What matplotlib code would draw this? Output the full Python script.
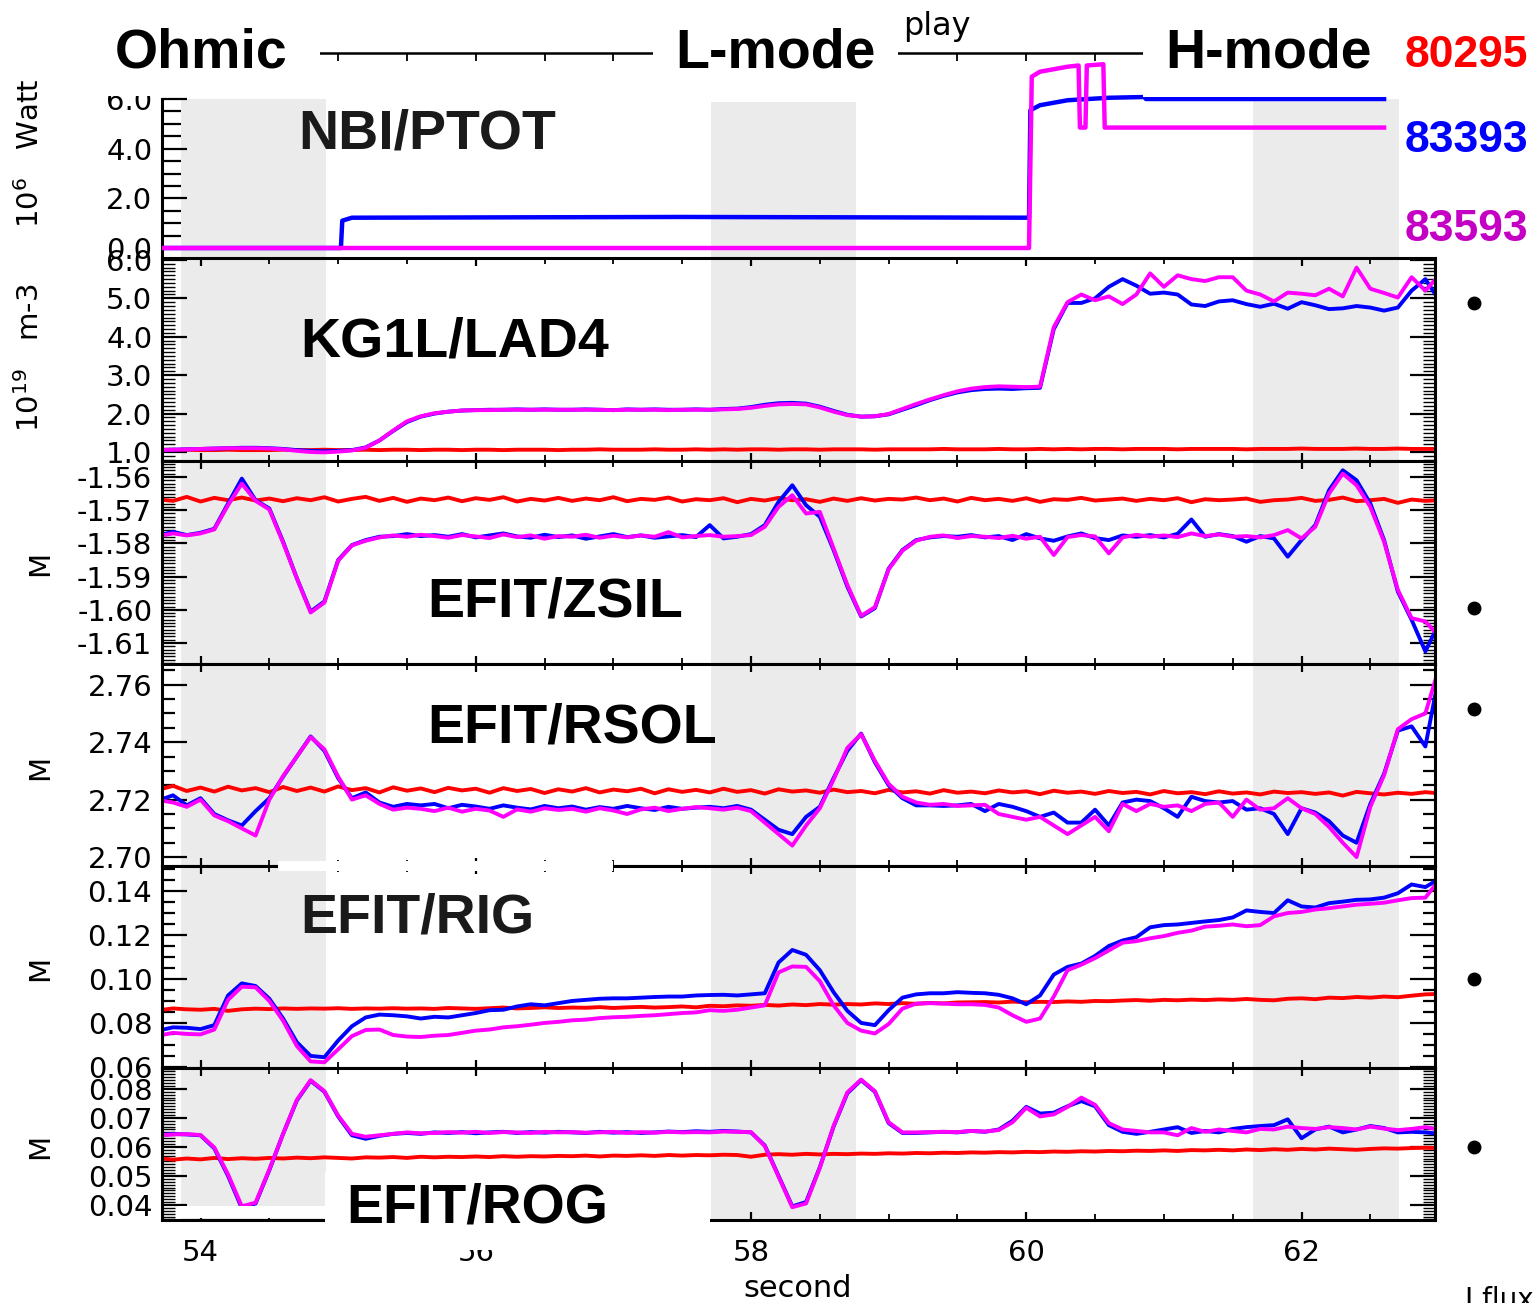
import numpy as np
import matplotlib
matplotlib.use("Agg")
import matplotlib.pyplot as plt
from matplotlib.patches import Rectangle
from matplotlib.ticker import MultipleLocator, FixedLocator, FormatStrFormatter

plt.rcParams['font.family'] = ['DejaVu Sans']

W, H = 1533, 1303
XLIM = (53.72, 62.97)

## shots and colours
shots = ["80295", "83393", "83593"]
line_colors = ["#ff0000", "#0000ff", "#ff00ff"]
label_colors = ["#ff0000", "#0000ff", "#c400c4"]

## grey time windows (s)
shade_windows = [(53.86, 54.91), (57.71, 58.76), (61.65, 62.71)]

## common time base for the EFIT / density traces (s)
t = np.round(np.arange(53.7, 63.05, 0.1), 1)

## NBI/PTOT  (10^6 W), step signals given by break points
nbi_t_83393 = [53.7, 55.02, 55.03, 55.1, 57.5, 60.02, 60.03, 60.1, 60.3, 60.6, 60.86, 60.87, 62.6]
nbi_p_83393 = [0.0, 0.0, 1.10, 1.22, 1.25, 1.22, 5.55, 5.75, 5.95, 6.05, 6.08, 6.0, 6.0]
nbi_t_83593 = [53.7, 60.02, 60.04, 60.1, 60.3, 60.38, 60.39, 60.43, 60.44, 60.56, 60.57, 62.6]
nbi_p_83593 = [0.0, 0.0, 6.9, 7.1, 7.3, 7.35, 4.85, 4.85, 7.35, 7.4, 4.85, 4.85]

## KG1L/LAD4  (10^19 m-3)
ne_80295 = [1.05, 1.05, 1.06, 1.05, 1.05, 1.06, 1.05, 1.05, 1.05, 1.06,
            1.05, 1.05, 1.06, 1.05, 1.05, 1.06, 1.05, 1.06, 1.06, 1.05,
            1.06, 1.06, 1.05, 1.06, 1.06, 1.05, 1.06, 1.06, 1.06, 1.05,
            1.06, 1.06, 1.07, 1.06, 1.06, 1.06, 1.07, 1.06, 1.06, 1.07,
            1.06, 1.07, 1.06, 1.07, 1.07, 1.06, 1.07, 1.07, 1.06, 1.07,
            1.07, 1.07, 1.06, 1.07, 1.07, 1.07, 1.07, 1.08, 1.07, 1.07,
            1.07, 1.08, 1.07, 1.07, 1.08, 1.07, 1.08, 1.07, 1.08, 1.08,
            1.07, 1.08, 1.08, 1.08, 1.07, 1.08, 1.08, 1.08, 1.08, 1.07,
            1.08, 1.08, 1.08, 1.09, 1.08, 1.08, 1.08, 1.09, 1.08, 1.08,
            1.09, 1.08, 1.08, 1.08]
ne_83393 = [1.05, 1.06, 1.07, 1.08, 1.09, 1.10, 1.11, 1.11, 1.10, 1.08,
            1.05, 1.03, 1.02, 1.03, 1.05, 1.12, 1.30, 1.55, 1.78, 1.92,
            2.00, 2.05, 2.08, 2.09, 2.10, 2.10, 2.11, 2.10, 2.11, 2.10,
            2.10, 2.11, 2.10, 2.09, 2.11, 2.10, 2.11, 2.10, 2.10, 2.11,
            2.10, 2.12, 2.13, 2.17, 2.23, 2.27, 2.28, 2.26, 2.18, 2.07,
            1.97, 1.92, 1.93, 1.98, 2.10, 2.22, 2.35, 2.46, 2.55, 2.61,
            2.64, 2.65, 2.64, 2.66, 2.67, 4.20, 4.88, 4.88, 5.00, 5.30,
            5.50, 5.33, 5.12, 5.15, 5.10, 4.84, 4.80, 4.92, 4.95, 4.85,
            4.78, 4.86, 4.73, 4.90, 4.82, 4.72, 4.74, 4.80, 4.76, 4.68,
            4.76, 5.20, 5.50, 4.95]
ne_83593 = [1.05, 1.06, 1.07, 1.08, 1.09, 1.10, 1.10, 1.10, 1.09, 1.07,
            1.03, 1.00, 0.99, 1.01, 1.04, 1.11, 1.30, 1.56, 1.80, 1.93,
            2.01, 2.05, 2.08, 2.09, 2.09, 2.10, 2.10, 2.10, 2.10, 2.10,
            2.10, 2.10, 2.10, 2.09, 2.10, 2.10, 2.10, 2.09, 2.10, 2.10,
            2.10, 2.11, 2.12, 2.15, 2.20, 2.24, 2.25, 2.24, 2.16, 2.05,
            1.96, 1.92, 1.93, 1.99, 2.12, 2.25, 2.37, 2.48, 2.58, 2.65,
            2.69, 2.71, 2.70, 2.69, 2.70, 4.25, 4.90, 5.10, 4.95, 5.05,
            4.85, 5.10, 5.65, 5.30, 5.60, 5.50, 5.45, 5.55, 5.55, 5.20,
            5.10, 4.92, 5.15, 5.12, 5.08, 5.25, 5.05, 5.80, 5.25, 5.14,
            5.02, 5.55, 5.20, 5.60]

## EFIT/ZSIL  (m)
zsil_80295 = [-1.5668, -1.5672, -1.5660, -1.5674, -1.5663, -1.5670, -1.5662, -1.5671, -1.5665, -1.5673,
              -1.5664, -1.5670, -1.5661, -1.5674, -1.5666, -1.5660, -1.5672, -1.5663, -1.5675, -1.5665,
              -1.5670, -1.5662, -1.5673, -1.5664, -1.5669, -1.5661, -1.5674, -1.5666, -1.5671, -1.5663,
              -1.5672, -1.5665, -1.5670, -1.5661, -1.5673, -1.5666, -1.5669, -1.5662, -1.5674, -1.5667,
              -1.5670, -1.5664, -1.5676, -1.5666, -1.5671, -1.5663, -1.5670, -1.5667, -1.5675, -1.5665,
              -1.5672, -1.5664, -1.5671, -1.5666, -1.5668, -1.5662, -1.5670, -1.5665, -1.5674, -1.5663,
              -1.5670, -1.5666, -1.5672, -1.5664, -1.5675, -1.5667, -1.5669, -1.5663, -1.5671, -1.5668,
              -1.5665, -1.5672, -1.5666, -1.5670, -1.5664, -1.5676, -1.5667, -1.5670, -1.5668, -1.5665,
              -1.5675, -1.5670, -1.5668, -1.5663, -1.5672, -1.5669, -1.5662, -1.5673, -1.5670, -1.5666,
              -1.5678, -1.5668, -1.5672, -1.5670]
zsil_83393 = [-1.5776, -1.5765, -1.5775, -1.5768, -1.5756, -1.5680, -1.5605, -1.5670, -1.5695, -1.5795,
              -1.5905, -1.6005, -1.5975, -1.5850, -1.5805, -1.5790, -1.5780, -1.5778, -1.5772, -1.5778,
              -1.5775, -1.5780, -1.5772, -1.5782, -1.5776, -1.5770, -1.5779, -1.5783, -1.5774, -1.5781,
              -1.5776, -1.5786, -1.5779, -1.5772, -1.5781, -1.5776, -1.5783, -1.5779, -1.5775, -1.5781,
              -1.5745, -1.5785, -1.5780, -1.5772, -1.5745, -1.5675, -1.5625, -1.5685, -1.5720, -1.5820,
              -1.5930, -1.6020, -1.5995, -1.5876, -1.5820, -1.5790, -1.5782, -1.5778, -1.5780, -1.5775,
              -1.5782, -1.5778, -1.5790, -1.5772, -1.5785, -1.5792, -1.5779, -1.5770, -1.5784, -1.5790,
              -1.5776, -1.5780, -1.5775, -1.5782, -1.5771, -1.5728, -1.5780, -1.5772, -1.5778, -1.5795,
              -1.5778, -1.5785, -1.5840, -1.5790, -1.5745, -1.5640, -1.5580, -1.5610, -1.5680, -1.5790,
              -1.5945, -1.6030, -1.6125, -1.6040]
zsil_83593 = [-1.5778, -1.5770, -1.5776, -1.5770, -1.5758, -1.5685, -1.5620, -1.5672, -1.5698, -1.5798,
              -1.5905, -1.6008, -1.5978, -1.5852, -1.5806, -1.5792, -1.5782, -1.5776, -1.5780, -1.5774,
              -1.5778, -1.5783, -1.5775, -1.5779, -1.5784, -1.5773, -1.5781, -1.5776, -1.5786, -1.5778,
              -1.5780, -1.5774, -1.5783, -1.5777, -1.5782, -1.5776, -1.5780, -1.5766, -1.5782, -1.5778,
              -1.5775, -1.5780, -1.5778, -1.5775, -1.5750, -1.5690, -1.5655, -1.5710, -1.5705, -1.5815,
              -1.5925, -1.6018, -1.5992, -1.5878, -1.5822, -1.5792, -1.5780, -1.5776, -1.5784, -1.5778,
              -1.5780, -1.5784, -1.5777, -1.5786, -1.5780, -1.5835, -1.5781, -1.5775, -1.5779, -1.5830,
              -1.5782, -1.5774, -1.5780, -1.5776, -1.5781, -1.5770, -1.5778, -1.5773, -1.5780, -1.5778,
              -1.5782, -1.5775, -1.5760, -1.5785, -1.5750, -1.5650, -1.5590, -1.5625, -1.5690, -1.5795,
              -1.5940, -1.6025, -1.6035, -1.6080]

## EFIT/RSOL  (m)
rsol_80295 = [2.7235, 2.7248, 2.7230, 2.7242, 2.7228, 2.7245, 2.7232, 2.7240, 2.7226, 2.7244,
              2.7230, 2.7242, 2.7228, 2.7246, 2.7233, 2.7240, 2.7225, 2.7243, 2.7231, 2.7239,
              2.7226, 2.7241, 2.7232, 2.7238, 2.7224, 2.7240, 2.7230, 2.7237, 2.7223, 2.7236,
              2.7228, 2.7240, 2.7225, 2.7235, 2.7229, 2.7238, 2.7222, 2.7236, 2.7227, 2.7234,
              2.7225, 2.7238, 2.7227, 2.7233, 2.7221, 2.7236, 2.7228, 2.7232, 2.7224, 2.7235,
              2.7226, 2.7230, 2.7222, 2.7234, 2.7225, 2.7229, 2.7221, 2.7233, 2.7224, 2.7228,
              2.7222, 2.7232, 2.7225, 2.7229, 2.7219, 2.7231, 2.7224, 2.7228, 2.7220, 2.7230,
              2.7223, 2.7227, 2.7218, 2.7230, 2.7222, 2.7226, 2.7219, 2.7229, 2.7221, 2.7225,
              2.7218, 2.7228, 2.7223, 2.7226, 2.7220, 2.7225, 2.7214, 2.7227, 2.7222, 2.7218,
              2.7224, 2.7220, 2.7226, 2.7222]
rsol_83393 = [2.7198, 2.7215, 2.7180, 2.7205, 2.7150, 2.7128, 2.7110, 2.7160, 2.7205, 2.7280,
              2.7350, 2.7420, 2.7370, 2.7275, 2.7205, 2.7225, 2.7190, 2.7175, 2.7185, 2.7180,
              2.7185, 2.7170, 2.7182, 2.7176, 2.7168, 2.7180, 2.7172, 2.7166, 2.7178, 2.7170,
              2.7176, 2.7165, 2.7174, 2.7168, 2.7178, 2.7170, 2.7164, 2.7175, 2.7168, 2.7172,
              2.7175, 2.7170, 2.7178, 2.7165, 2.7130, 2.7095, 2.7080, 2.7140, 2.7175, 2.7275,
              2.7370, 2.7430, 2.7330, 2.7250, 2.7205, 2.7180, 2.7180, 2.7178, 2.7180, 2.7185,
              2.7160, 2.7185, 2.7175, 2.7160, 2.7140, 2.7155, 2.7120, 2.7120, 2.7165, 2.7110,
              2.7190, 2.7200, 2.7195, 2.7170, 2.7140, 2.7210, 2.7195, 2.7190, 2.7195, 2.7165,
              2.7170, 2.7150, 2.7080, 2.7170, 2.7155, 2.7125, 2.7075, 2.7050, 2.7185, 2.7290,
              2.7440, 2.7455, 2.7385, 2.7635]
rsol_83593 = [2.7198, 2.7190, 2.7175, 2.7200, 2.7145, 2.7125, 2.7100, 2.7075, 2.7200, 2.7282,
              2.7350, 2.7418, 2.7375, 2.7280, 2.7200, 2.7215, 2.7185, 2.7165, 2.7172, 2.7168,
              2.7160, 2.7172, 2.7158, 2.7168, 2.7162, 2.7140, 2.7166, 2.7158, 2.7170, 2.7164,
              2.7168, 2.7158, 2.7170, 2.7162, 2.7150, 2.7166, 2.7172, 2.7160, 2.7168, 2.7174,
              2.7170, 2.7165, 2.7172, 2.7160, 2.7120, 2.7080, 2.7040, 2.7110, 2.7170, 2.7270,
              2.7380, 2.7428, 2.7335, 2.7255, 2.7210, 2.7190, 2.7182, 2.7185, 2.7178, 2.7180,
              2.7182, 2.7150, 2.7140, 2.7130, 2.7140, 2.7110, 2.7080, 2.7110, 2.7140, 2.7090,
              2.7185, 2.7160, 2.7185, 2.7175, 2.7180, 2.7160, 2.7185, 2.7190, 2.7140, 2.7200,
              2.7165, 2.7170, 2.7205, 2.7170, 2.7150, 2.7105, 2.7050, 2.7000, 2.7175, 2.7285,
              2.7445, 2.7480, 2.7500, 2.7660]

## EFIT/RIG  (m)
rig_80295 = [0.0858, 0.0866, 0.0862, 0.0860, 0.0864, 0.0855, 0.0862, 0.0865, 0.0863, 0.0866,
             0.0864, 0.0866, 0.0865, 0.0867, 0.0864, 0.0866, 0.0865, 0.0867, 0.0865, 0.0866,
             0.0864, 0.0868, 0.0866, 0.0864, 0.0867, 0.0870, 0.0866, 0.0868, 0.0871, 0.0868,
             0.0870, 0.0869, 0.0872, 0.0868, 0.0871, 0.0873, 0.0870, 0.0872, 0.0875, 0.0871,
             0.0878, 0.0876, 0.0880, 0.0878, 0.0882, 0.0879, 0.0884, 0.0881, 0.0886, 0.0883,
             0.0886, 0.0884, 0.0889, 0.0886, 0.0890, 0.0887, 0.0891, 0.0889, 0.0893, 0.0894,
             0.0895, 0.0893, 0.0897, 0.0894, 0.0896, 0.0895, 0.0898, 0.0896, 0.0900, 0.0899,
             0.0902, 0.0904, 0.0901, 0.0905, 0.0903, 0.0906, 0.0904, 0.0907, 0.0905, 0.0909,
             0.0905, 0.0903, 0.0910, 0.0912, 0.0908, 0.0915, 0.0913, 0.0918, 0.0915, 0.0920,
             0.0917, 0.0924, 0.0930, 0.0932]
rig_83393 = [0.0766, 0.0780, 0.0778, 0.0772, 0.0790, 0.0925, 0.0980, 0.0968, 0.0910, 0.0820,
             0.0712, 0.0650, 0.0644, 0.0720, 0.0785, 0.0825, 0.0838, 0.0835, 0.0830, 0.0820,
             0.0828, 0.0825, 0.0835, 0.0845, 0.0858, 0.0860, 0.0875, 0.0885, 0.0880, 0.0890,
             0.0900, 0.0905, 0.0910, 0.0912, 0.0912, 0.0915, 0.0918, 0.0920, 0.0920, 0.0925,
             0.0927, 0.0928, 0.0925, 0.0930, 0.0935, 0.1075, 0.1132, 0.1110, 0.1040, 0.0940,
             0.0855, 0.0800, 0.0790, 0.0858, 0.0915, 0.0930, 0.0935, 0.0935, 0.0940, 0.0937,
             0.0935, 0.0928, 0.0912, 0.0885, 0.0925, 0.1020, 0.1055, 0.1070, 0.1105, 0.1150,
             0.1175, 0.1190, 0.1235, 0.1245, 0.1248, 0.1255, 0.1262, 0.1268, 0.1280, 0.1312,
             0.1305, 0.1300, 0.1358, 0.1330, 0.1325, 0.1345, 0.1352, 0.1360, 0.1362, 0.1370,
             0.1390, 0.1430, 0.1418, 0.1455]
rig_83593 = [0.0743, 0.0755, 0.0750, 0.0748, 0.0770, 0.0905, 0.0965, 0.0962, 0.0900, 0.0810,
             0.0695, 0.0625, 0.0621, 0.0680, 0.0740, 0.0768, 0.0770, 0.0745, 0.0738, 0.0736,
             0.0742, 0.0745, 0.0755, 0.0765, 0.0770, 0.0780, 0.0785, 0.0792, 0.0800, 0.0805,
             0.0812, 0.0815, 0.0822, 0.0826, 0.0828, 0.0832, 0.0835, 0.0840, 0.0845, 0.0848,
             0.0858, 0.0855, 0.0860, 0.0870, 0.0880, 0.1030, 0.1057, 0.1055, 0.0990, 0.0880,
             0.0800, 0.0765, 0.0752, 0.0795, 0.0865, 0.0888, 0.0890, 0.0888, 0.0885, 0.0885,
             0.0882, 0.0870, 0.0835, 0.0805, 0.0820, 0.0920, 0.1040, 0.1065, 0.1095, 0.1130,
             0.1165, 0.1172, 0.1185, 0.1195, 0.1210, 0.1220, 0.1238, 0.1242, 0.1248, 0.1240,
             0.1245, 0.1285, 0.1300, 0.1305, 0.1316, 0.1322, 0.1330, 0.1338, 0.1342, 0.1347,
             0.1358, 0.1368, 0.1370, 0.1450]

## EFIT/ROG  (m)
rog_80295 = [0.0561, 0.0556, 0.0560, 0.0557, 0.0562, 0.0558, 0.0561, 0.0559, 0.0562, 0.0560,
             0.0563, 0.0561, 0.0564, 0.0562, 0.0560, 0.0564, 0.0563, 0.0565, 0.0562, 0.0566,
             0.0564, 0.0566, 0.0565, 0.0567, 0.0565, 0.0568, 0.0566, 0.0568, 0.0567, 0.0569,
             0.0568, 0.0570, 0.0567, 0.0570, 0.0569, 0.0571, 0.0569, 0.0572, 0.0570, 0.0572,
             0.0571, 0.0573, 0.0572, 0.0566, 0.0573, 0.0575, 0.0573, 0.0576, 0.0574, 0.0576,
             0.0575, 0.0577, 0.0576, 0.0578, 0.0577, 0.0579, 0.0578, 0.0580, 0.0579, 0.0581,
             0.0580, 0.0582, 0.0581, 0.0583, 0.0582, 0.0584, 0.0583, 0.0585, 0.0584, 0.0586,
             0.0585, 0.0587, 0.0586, 0.0588, 0.0586, 0.0589, 0.0588, 0.0590, 0.0588, 0.0591,
             0.0589, 0.0592, 0.0590, 0.0593, 0.0591, 0.0594, 0.0592, 0.0590, 0.0593, 0.0595,
             0.0594, 0.0596, 0.0597, 0.0596]
rog_83393 = [0.0641, 0.0645, 0.0643, 0.0640, 0.0595, 0.0500, 0.0389, 0.0405, 0.0520, 0.0645,
             0.0760, 0.0828, 0.0790, 0.0705, 0.0640, 0.0628, 0.0638, 0.0645, 0.0648, 0.0645,
             0.0650, 0.0648, 0.0651, 0.0647, 0.0650, 0.0652, 0.0648, 0.0651, 0.0649, 0.0652,
             0.0650, 0.0648, 0.0652, 0.0649, 0.0651, 0.0648, 0.0650, 0.0653, 0.0651, 0.0654,
             0.0652, 0.0655, 0.0653, 0.0650, 0.0605, 0.0500, 0.0395, 0.0410, 0.0530, 0.0670,
             0.0785, 0.0830, 0.0790, 0.0682, 0.0648, 0.0648, 0.0650, 0.0652, 0.0650, 0.0655,
             0.0652, 0.0660, 0.0690, 0.0738, 0.0715, 0.0718, 0.0740, 0.0758, 0.0740, 0.0675,
             0.0652, 0.0645, 0.0652, 0.0660, 0.0668, 0.0648, 0.0655, 0.0650, 0.0662, 0.0668,
             0.0672, 0.0675, 0.0695, 0.0630, 0.0660, 0.0670, 0.0650, 0.0660, 0.0672, 0.0665,
             0.0650, 0.0652, 0.0650, 0.0645]
rog_83593 = [0.0640, 0.0643, 0.0644, 0.0641, 0.0598, 0.0505, 0.0395, 0.0408, 0.0522, 0.0645,
             0.0762, 0.0830, 0.0792, 0.0708, 0.0645, 0.0635, 0.0640, 0.0645, 0.0650, 0.0647,
             0.0648, 0.0651, 0.0649, 0.0652, 0.0648, 0.0651, 0.0650, 0.0648, 0.0652, 0.0650,
             0.0651, 0.0649, 0.0650, 0.0652, 0.0648, 0.0651, 0.0649, 0.0652, 0.0650, 0.0651,
             0.0650, 0.0653, 0.0652, 0.0651, 0.0603, 0.0498, 0.0392, 0.0405, 0.0528, 0.0672,
             0.0788, 0.0832, 0.0792, 0.0685, 0.0650, 0.0650, 0.0651, 0.0652, 0.0651, 0.0655,
             0.0653, 0.0658, 0.0685, 0.0735, 0.0705, 0.0712, 0.0738, 0.0770, 0.0745, 0.0682,
             0.0660, 0.0655, 0.0650, 0.0650, 0.0640, 0.0665, 0.0652, 0.0660, 0.0655, 0.0650,
             0.0662, 0.0660, 0.0670, 0.0665, 0.0662, 0.0668, 0.0665, 0.0660, 0.0670, 0.0663,
             0.0658, 0.0662, 0.0668, 0.0660]


fig = plt.figure(figsize=(W / 100, H / 100), dpi=100)


def px_axes(top, bottom, left=162, right=1435):
    """axes placed by pixel edges of the 1533x1303 canvas"""
    return fig.add_axes([left / W, 1 - bottom / H, (right - left) / W, (bottom - top) / H])


def white_box(x0, y0, x1, y1):
    fig.add_artist(Rectangle((x0 / W, 1 - y1 / H), (x1 - x0) / W, (y1 - y0) / H,
                             transform=fig.transFigure, facecolor="white",
                             edgecolor="none", zorder=5))


def bold_label(x, y, s, color="black", size=40):
    fig.text(x / W, 1 - y / H, s, ha="left", va="baseline", fontsize=size,
             fontweight="bold", family="Liberation Sans", color=color, zorder=6)


def style_panel(ax, ylim, majors, minor, fmt, dense):
    ax.set_xlim(XLIM)
    ax.set_ylim(ylim)
    ax.xaxis.set_major_locator(MultipleLocator(2))
    ax.xaxis.set_minor_locator(MultipleLocator(0.5))
    ax.yaxis.set_major_locator(FixedLocator(majors))
    ax.yaxis.set_minor_locator(MultipleLocator(minor))
    ax.yaxis.set_major_formatter(FormatStrFormatter(fmt))
    ax.tick_params(which="both", direction="in", top=True, right=True, labelbottom=False)
    ax.tick_params(axis="x", which="major", length=6, width=1.6)
    ax.tick_params(axis="x", which="minor", length=4, width=1.3)
    ax.tick_params(axis="y", which="major", length=18, width=1.6, labelsize=21, pad=7)
    ax.tick_params(axis="y", which="minor", length=9, width=1.0 if dense else 1.6)
    for sp in ax.spines.values():
        sp.set_linewidth(2.2)
    for x0, x1 in shade_windows:
        ax.axvspan(x0, x1, color="#ebebeb", lw=0, zorder=0)


def draw_traces(ax, series):
    for vals, col in zip(series, line_colors):
        ax.plot(t, vals, color=col, lw=2.8, zorder=2)


# header line with ticks (drawn as the top spine of an empty axes)
axh = px_axes(53, 63)
axh.set_xlim(XLIM)
axh.patch.set_visible(False)
for side in ["left", "right", "bottom"]:
    axh.spines[side].set_visible(False)
axh.spines["top"].set_linewidth(1.8)
axh.spines["top"].set_bounds(XLIM[0], 62.5)
axh.set_yticks([])
axh.xaxis.set_major_locator(FixedLocator(np.arange(54.0, 62.6, 0.5)))
axh.tick_params(axis="x", direction="in", top=True, bottom=False, labeltop=False,
                labelbottom=False, length=6, width=1.3)

# NBI/PTOT panel
ax1 = px_axes(62, 258)
p_lo = -(258 - 248) / 24.83
p_hi = 6.0 + (99 - 62) / 24.83
ax1.set_xlim(XLIM)
ax1.set_ylim(p_lo, p_hi)
ax1.patch.set_visible(False)
for side in ["top", "right", "bottom"]:
    ax1.spines[side].set_visible(False)
ax1.spines["left"].set_linewidth(2.2)
ax1.spines["left"].set_bounds(p_lo, 6.0)
ax1.set_xticks([])
ax1.yaxis.set_major_locator(FixedLocator([0, 2, 4, 6]))
ax1.yaxis.set_minor_locator(FixedLocator([0.5, 1, 1.5, 2.5, 3, 3.5, 4.5, 5, 5.5]))
ax1.yaxis.set_major_formatter(FormatStrFormatter("%.1f"))
ax1.tick_params(axis="y", which="both", direction="in", labelsize=21, pad=7, width=1.6)
ax1.tick_params(axis="y", which="major", length=18)
ax1.tick_params(axis="y", which="minor", length=14)
frac6 = (6.0 - p_lo) / (p_hi - p_lo)
for x0, x1 in shade_windows:
    ax1.axvspan(x0, x1, ymax=frac6, color="#ebebeb", lw=0, zorder=0)
ax1.plot(nbi_t_83393, nbi_p_83393, color=line_colors[1], lw=3.2, zorder=2)
ax1.plot(nbi_t_83593, nbi_p_83593, color=line_colors[2], lw=3.2, zorder=3)

# KG1L/LAD4
ax2 = px_axes(258, 461)
style_panel(ax2, (0.766, 6.05), [1, 2, 3, 4, 5, 6], 0.1, "%.1f", True)
draw_traces(ax2, [ne_80295, ne_83393, ne_83593])

# EFIT/ZSIL
ax3 = px_axes(461, 664)
style_panel(ax3, (-1.6163, -1.5552), [-1.61, -1.60, -1.59, -1.58, -1.57, -1.56], 0.001, "%.2f", True)
draw_traces(ax3, [zsil_80295, zsil_83393, zsil_83593])

# EFIT/RSOL
ax4 = px_axes(664, 866)
style_panel(ax4, (2.6969, 2.7672), [2.70, 2.72, 2.74, 2.76], 0.005, "%.2f", False)
draw_traces(ax4, [rsol_80295, rsol_83393, rsol_83593])

# EFIT/RIG
ax5 = px_axes(866, 1068)
style_panel(ax5, (0.0595, 0.1514), [0.06, 0.08, 0.10, 0.12, 0.14], 0.005, "%.2f", False)
draw_traces(ax5, [rig_80295, rig_83393, rig_83593])

# EFIT/ROG
ax6 = px_axes(1068, 1220)
style_panel(ax6, (0.0348, 0.0872), [0.04, 0.05, 0.06, 0.07, 0.08], 0.001, "%.2f", True)
draw_traces(ax6, [rog_80295, rog_83393, rog_83593])
ax6.tick_params(axis="x", labelbottom=True, labelsize=21, pad=14)
ax6.xaxis.set_major_formatter(FormatStrFormatter("%d"))

# black dots on the right of the panels
for ax, yf in [(ax2, 0.78), (ax3, 0.275), (ax4, 0.775), (ax5, 0.44), (ax6, 0.48)]:
    ax.plot([1.031], [yf], "o", color="black", ms=9, transform=ax.transAxes, clip_on=False)

# white patches of the pasted slide
white_box(90, 0, 320, 96)
white_box(1143, 0, 1397, 97)
white_box(278, 861, 613, 871)
white_box(325, 1172, 710, 1250)
white_box(178, 1206, 325, 1218)

# header labels
bold_label(115, 68, "Ohmic")
fig.text(675 / W, 1 - 68 / H, "L-mode", ha="left", va="baseline", fontsize=40,
         fontweight="bold", family="Liberation Sans", zorder=6,
         bbox=dict(facecolor="white", edgecolor="none", pad=16))
bold_label(1165, 68, "H-mode")
fig.text(903 / W, 1 - 35 / H, "play", ha="left", va="baseline", fontsize=23, zorder=6)

for yb, shot, col in zip([67, 152, 241], shots, label_colors):
    bold_label(1405, yb, shot, color=col, size=32)

# panel names
bold_label(298, 148, "NBI/PTOT", color="#1a1a1a")
bold_label(300, 357, "KG1L/LAD4")
bold_label(427, 617, "EFIT/ZSIL")
bold_label(427, 742, "EFIT/RSOL")
bold_label(300, 933, "EFIT/RIG", color="#1a1a1a")
bold_label(346, 1222, "EFIT/ROG")

# axis titles
fig.text(30 / W, 1 - 153 / H, r"10$^{6}$   Watt", rotation=90, ha="center", va="center", fontsize=21)
fig.text(30 / W, 1 - 358 / H, r"10$^{19}$   m-3", rotation=90, ha="center", va="center", fontsize=21)
for yc in [563, 767, 968, 1146]:
    fig.text(40 / W, 1 - yc / H, "M", rotation=90, ha="center", va="center", fontsize=21)
fig.text(798 / W, 1 - 1297 / H, "second", ha="center", va="baseline", fontsize=22)
fig.text(1465 / W, 1 - 1286 / H, "I fluxes", ha="left", va="top", fontsize=20)

fig.savefig("out.png", dpi=100)
